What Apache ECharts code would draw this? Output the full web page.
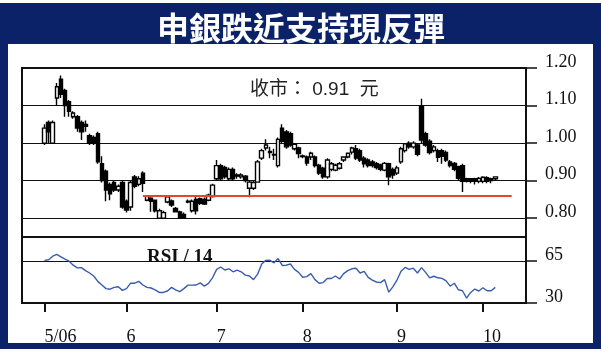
<!DOCTYPE html>
<html><head><meta charset="utf-8">
<script src="https://cdn.jsdelivr.net/npm/echarts@6.0.0/dist/echarts.min.js"></script>
<style>html,body{margin:0;padding:0;background:#fff}#c{width:601px;height:352px}</style>
</head><body><div id="c"></div>
<script>
// ---- texts ----
const chartTitle = '申銀跌近支持現反彈';
const closeNote = '收市： 0.91  元';
const rsiTitle = 'RSI / 14';

// ---- trading days (2006) ----
const mayDays = [2,3,4,8,9,10,11,12,15,16,17,18,19,22,23,24,25,26,29,30];
const junDays = [1,2,5,6,7,8,9,12,13,14,15,16,19,20,21,22,23,26,27,28,29,30];
const julDays = [3,4,5,6,7,10,11,12,13,14,17,18,19,20,21,24,25,26,27,28,31];
const augDays = [1,2,3,4,7,8,9,10,11,14,15,16,17,18,21,22,23,24,25,28,29,30,31];
const sepDays = [1,4,5,6,7,8,11,12,13,14,15,18,19,20,21,22,25,26,27,28,29];
const octDays = [3,4,5,6];
const monthNums = [5,6,7,8,9,10];
const monthLabels = ['5/06','6','7','8','9','10'];

// ---- tick labels ----
const priceTicks = [0.80, 0.90, 1.00, 1.10, 1.20];
const rsiTicks = [30, 65];

// ---- OHLC (HK$) ----
const openP = [1.00,1.055,1.00,1.12,1.17,1.14,1.11,1.07,1.07,1.055,1.05,1.02,1.015,1.025,0.945,0.925,0.89,0.895,0.875,0.895,
  0.845,0.83,0.91,0.89,0.92,0.848,0.853,0.848,0.80,0.80,0.843,0.846,0.826,0.817,0.81,0.845,0.82,0.85,0.852,0.85,0.848,0.858,
  0.905,0.94,0.935,0.905,0.93,0.915,0.91,0.912,0.88,0.88,0.896,0.96,0.987,0.975,0.968,0.94,1.04,1.03,1.025,0.985,0.987,
  0.966,0.963,0.963,0.963,0.941,0.933,0.91,0.93,0.928,0.933,0.955,0.963,0.976,0.985,0.98,0.96,0.955,0.95,0.945,0.942,
  0.928,0.945,0.93,0.92,0.95,0.98,1.00,0.99,0.995,1.097,1.025,1.005,0.98,0.98,0.98,0.975,0.95,0.946,0.937,0.94,0.905,
  0.905,0.905,0.898,0.898,0.908,0.905,0.905];
const closeP = [1.04,1.03,1.055,1.15,1.13,1.10,1.085,1.08,1.04,1.03,1.045,1.00,1.00,0.95,0.90,0.875,0.865,0.875,0.885,0.83,
  0.822,0.895,0.885,0.905,0.893,0.86,0.845,0.82,0.82,0.815,0.857,0.835,0.817,0.80,0.80,0.843,0.845,0.82,0.84,0.838,0.861,0.888,
  0.94,0.905,0.91,0.93,0.905,0.912,0.915,0.90,0.896,0.895,0.95,0.98,0.995,0.978,0.97,1.01,1.005,0.99,0.995,0.997,0.972,
  0.964,0.947,0.973,0.94,0.92,0.91,0.955,0.945,0.941,0.945,0.963,0.973,0.987,0.96,0.955,0.945,0.94,0.94,0.935,0.93,
  0.946,0.91,0.915,0.934,0.985,0.998,0.99,1.00,0.97,1.008,0.995,0.975,0.99,0.962,0.965,0.955,0.94,0.93,0.906,0.898,0.898,
  0.898,0.898,0.906,0.909,0.898,0.90,0.91];
const lowP = [0.995,1.00,0.998,1.10,1.12,1.07,1.07,1.065,1.03,1.008,1.03,0.995,0.995,0.945,0.895,0.845,0.848,0.87,0.87,0.825,
  0.815,0.82,0.88,0.885,0.87,0.845,0.817,0.815,0.80,0.80,0.84,0.83,0.815,0.80,0.80,0.84,0.815,0.81,0.835,0.835,0.845,0.855,
  0.90,0.90,0.905,0.90,0.90,0.905,0.905,0.895,0.856,0.875,0.895,0.955,0.98,0.96,0.955,0.935,1.00,0.985,0.99,0.98,0.96,
  0.96,0.94,0.955,0.935,0.915,0.905,0.905,0.925,0.925,0.93,0.95,0.96,0.97,0.955,0.95,0.935,0.935,0.935,0.93,0.925,
  0.925,0.888,0.905,0.915,0.945,0.975,0.985,0.985,0.965,1.00,0.99,0.97,0.975,0.95,0.945,0.95,0.935,0.925,0.90,0.87,0.895,
  0.893,0.89,0.893,0.893,0.893,0.893,0.90];
const highP = [1.05,1.06,1.06,1.16,1.18,1.145,1.115,1.085,1.075,1.06,1.06,1.025,1.02,1.03,0.965,0.93,0.895,0.90,0.89,0.90,
  0.85,0.90,0.915,0.912,0.925,0.862,0.856,0.85,0.825,0.82,0.862,0.85,0.83,0.82,0.815,0.85,0.85,0.86,0.855,0.855,0.865,0.892,
  0.955,0.945,0.94,0.935,0.935,0.92,0.92,0.915,0.90,0.90,0.955,0.985,1.01,0.99,0.985,1.015,1.05,1.035,1.03,1.00,0.99,
  0.97,0.967,0.977,0.967,0.945,0.937,0.96,0.95,0.945,0.95,0.965,0.975,0.99,0.995,0.985,0.965,0.96,0.955,0.95,0.945,
  0.95,0.948,0.935,0.94,0.99,1.00,1.005,1.005,1.00,1.118,1.03,1.01,0.995,0.985,0.985,0.98,0.955,0.95,0.94,0.945,0.908,
  0.907,0.908,0.91,0.912,0.912,0.908,0.91];

// ---- RSI(14) ----
const rsi14 = [65.5,66,69,70.5,68.5,66.5,64.8,61.5,59.3,59.5,57,55,52.5,48,45,42,41.5,43,43.5,40.5,
  42,46.5,46.5,48,45,43,42.5,41,38.8,38.8,40,43,41,39.5,42,44.9,44.9,45,46.8,44,46.3,51,
  58,60,57.5,58.5,56,57.4,56,53.2,52.5,49.5,54,62.5,65.5,65.6,63.5,67,61.3,61.5,62.5,58,55.5,
  51.5,52,54.5,49.5,46.5,47,50.4,50.4,52.5,50,54.5,57,58.5,59,55,56.3,51.3,49,47.5,47,
  49.5,39,43.5,49,56.5,59.6,58,59,55,59.5,55.5,51,52.3,51,50.5,48.5,44,46.5,41,40.2,34,
  38.8,41.6,40,42.7,40.2,40.2,43];

// ---- support line ----
const supportLevel = 0.86;
const supportFromSlot = 29;
const supportToSlot = 119;

const padBefore = 5, padAfter = 7;

// ---- build categories ----
const monthDays = [mayDays, junDays, julDays, augDays, sepDays, octDays];
const tradeDates = [];
const firstDayLabel = {};
monthDays.forEach((days, m) => days.forEach((d, k) => {
  const key = monthNums[m] + '/' + d;
  tradeDates.push(key);
  if (k === 0) firstDayLabel[key] = monthLabels[m];
}));
const categories = [];
for (let i = 0; i < padBefore; i++) categories.push('pre' + i);
tradeDates.forEach(d => categories.push(d));
for (let i = 0; i < padAfter; i++) categories.push('post' + i);

const candleData = categories.map(c => {
  const k = tradeDates.indexOf(c);
  return k < 0 ? ['-','-','-','-'] : [openP[k], closeP[k], lowP[k], highP[k]];
});
const rsiData = categories.map(c => {
  const k = tradeDates.indexOf(c);
  return k < 0 ? '-' : rsi14[k];
});

const serif = '"Liberation Serif", "Times New Roman", serif';
const isMonthStart = (i, v) => Object.prototype.hasOwnProperty.call(firstDayLabel, v);

const chart = echarts.init(document.getElementById('c'), null, {renderer: 'canvas'});
chart.setOption({
  backgroundColor: '#ffffff',
  animation: false,
  graphic: [
    {type: 'rect', z: -10, shape: {x: 0, y: 3, width: 601, height: 346}, style: {fill: '#0b2268'}},
    {type: 'rect', z: -9, shape: {x: 8, y: 44, width: 585, height: 299}, style: {fill: '#ffffff'}},
    {type: 'text', z: 10, x: 301, y: 28, style: {text: chartTitle, fill: '#ffffff', fontSize: 32, fontWeight: 'bold',
      fontFamily: '"Noto Sans CJK TC", sans-serif', align: 'center', verticalAlign: 'middle', textAlign: 'center', textVerticalAlign: 'middle'}},
    {type: 'text', z: 10, x: 250, y: 90, style: {text: closeNote, fill: '#222', fontSize: 19,
      fontFamily: '"Liberation Sans", "Noto Sans CJK TC", sans-serif', align: 'left', verticalAlign: 'middle', textAlign: 'left', textVerticalAlign: 'middle'}},
    {type: 'text', z: 10, x: 147, y: 257, style: {text: rsiTitle, fill: '#111', fontSize: 19, fontWeight: 'bold',
      fontFamily: serif, align: 'left', verticalAlign: 'middle', textAlign: 'left', textVerticalAlign: 'middle'}}
  ],
  grid: [
    {left: 22, right: 75, top: 68, height: 169, show: true, borderColor: '#111', borderWidth: 2, backgroundColor: 'transparent'},
    {left: 22, right: 75, top: 237, height: 66, show: true, borderColor: '#111', borderWidth: 2, backgroundColor: 'transparent'}
  ],
  xAxis: [
    {type: 'category', gridIndex: 0, data: categories, boundaryGap: true,
      axisLine: {show: false}, axisTick: {show: false}, axisLabel: {show: false}, splitLine: {show: false}},
    {type: 'category', gridIndex: 1, data: categories, boundaryGap: true,
      axisLine: {show: false},
      axisTick: {show: true, alignWithLabel: true, interval: isMonthStart, length: 9, lineStyle: {color: '#111', width: 2}},
      axisLabel: {show: true, interval: isMonthStart, formatter: v => firstDayLabel[v] || '', align: 'left', margin: 25,
        fontFamily: serif, fontSize: 18, color: '#111'},
      splitLine: {show: false}}
  ],
  yAxis: [
    {type: 'value', gridIndex: 0, position: 'right', min: 0.75, max: 1.20,
      axisLine: {show: false},
      axisTick: {show: true, customValues: priceTicks, length: 11, lineStyle: {color: '#111', width: 1.5}},
      axisLabel: {customValues: priceTicks, formatter: v => v.toFixed(2), margin: 19, fontFamily: serif, fontSize: 18,
        color: '#111', verticalAlign: 'bottom', lineHeight: 12},
      splitLine: {show: true, lineStyle: {color: '#111', width: 1.2}}},
    {type: 'value', gridIndex: 1, position: 'right', min: 30, max: 85,
      axisLine: {show: false},
      axisTick: {show: true, customValues: rsiTicks, length: 11, lineStyle: {color: '#111', width: 1.5}},
      axisLabel: {customValues: rsiTicks, formatter: v => String(v), margin: 19, fontFamily: serif, fontSize: 18,
        color: '#111', verticalAlign: 'bottom', lineHeight: 12},
      splitLine: {show: true, lineStyle: {color: '#111', width: 1.2}}}
  ],
  series: [
    {type: 'candlestick', xAxisIndex: 0, yAxisIndex: 0, data: candleData, barWidth: 4,
      itemStyle: {color: '#ffffff', color0: '#000000', borderColor: '#000000', borderColor0: '#000000', borderWidth: 1.4},
      markLine: {symbol: 'none', silent: true, label: {show: false}, animation: false,
        lineStyle: {color: '#e4472a', width: 2, type: 'solid'},
        data: [[{coord: [supportFromSlot, supportLevel]}, {coord: [supportToSlot, supportLevel]}]]}},
    {type: 'line', xAxisIndex: 1, yAxisIndex: 1, data: rsiData, symbol: 'none', showSymbol: false,
      lineStyle: {color: '#3a5cae', width: 1.4}}
  ]
});
</script></body></html>
